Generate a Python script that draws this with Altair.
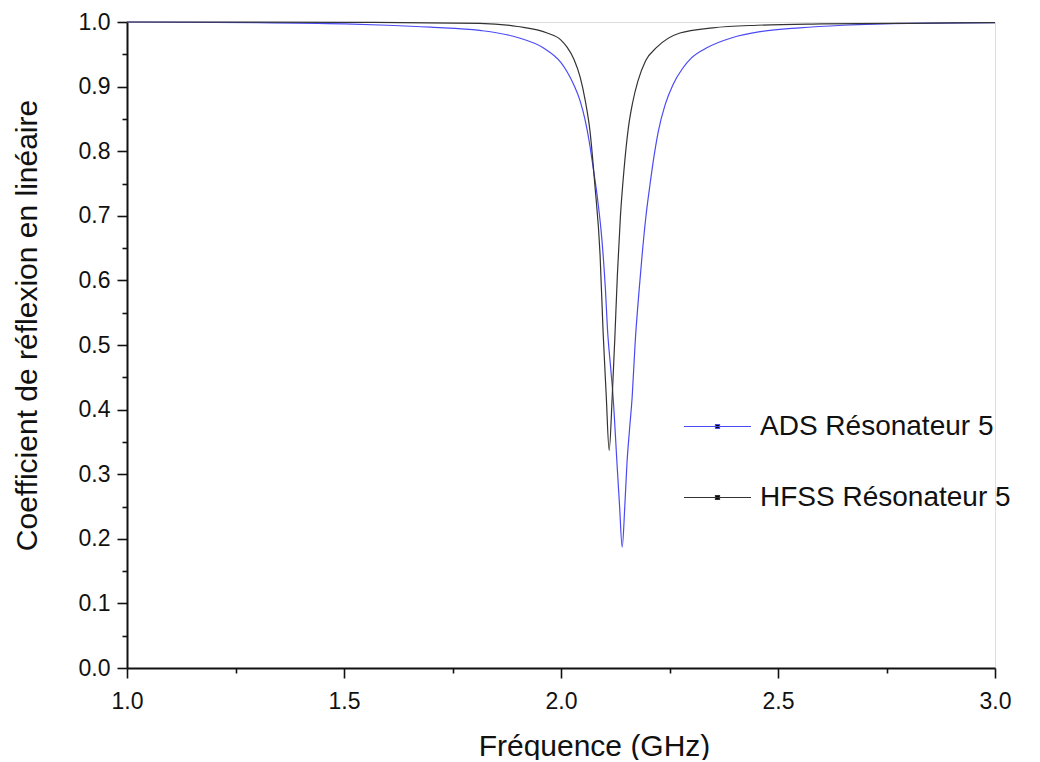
import altair as alt
import pandas as pd

# ADS Résonateur 5 (blue)
ads_f = [1.0, 1.3, 1.5, 1.6, 1.7, 1.813, 1.9, 1.959, 2.0, 2.014, 2.03, 2.044, 2.055, 2.065,
         2.074, 2.085, 2.094, 2.102, 2.108, 2.114, 2.120, 2.129, 2.135, 2.141, 2.147, 2.152,
         2.158, 2.164, 2.171, 2.180, 2.187, 2.195, 2.205, 2.215, 2.224, 2.24, 2.258, 2.28,
         2.30, 2.336, 2.396, 2.459, 2.55, 2.65, 2.8, 3.0]
ads_v = [1.0, 0.999, 0.997, 0.995, 0.992, 0.987, 0.976, 0.960, 0.937, 0.923, 0.902, 0.878,
         0.850, 0.815, 0.775, 0.722, 0.665, 0.59, 0.515, 0.468, 0.420, 0.317, 0.25, 0.187,
         0.25, 0.317, 0.37, 0.420, 0.505, 0.585, 0.640, 0.695, 0.748, 0.795, 0.830, 0.872,
         0.903, 0.928, 0.944, 0.960, 0.976, 0.985, 0.991, 0.995, 0.998, 0.999]

# HFSS Résonateur 5 (black)
hfss_f = [1.0, 1.5, 1.813, 1.9, 1.968, 2.0, 2.014, 2.03, 2.044, 2.056, 2.067, 2.078, 2.090,
          2.097, 2.104, 2.111, 2.118, 2.124, 2.130, 2.137, 2.145, 2.155, 2.165, 2.177, 2.195,
          2.221, 2.274, 2.350, 2.452, 2.6, 2.8, 3.0]
hfss_v = [1.0, 0.9995, 0.998, 0.993, 0.983, 0.972, 0.961, 0.942, 0.915, 0.878, 0.830, 0.748,
          0.640, 0.520, 0.425, 0.337, 0.420, 0.510, 0.610, 0.700, 0.770, 0.835, 0.875, 0.908,
          0.940, 0.961, 0.983, 0.991, 0.995, 0.997, 0.998, 0.999]

series_names = ["ADS Résonateur 5", "HFSS Résonateur 5"]
series_colors = ["#4a4af5", "#333333"]

x_major = [1.0, 1.5, 2.0, 2.5, 3.0]
x_minor = [1.25, 1.75, 2.25, 2.75]
y_major = [0.0, 0.1, 0.2, 0.3, 0.4, 0.5, 0.6, 0.7, 0.8, 0.9, 1.0]
y_minor = [0.05, 0.15, 0.25, 0.35, 0.45, 0.55, 0.65, 0.75, 0.85, 0.95]

df = pd.concat([
    pd.DataFrame({"f": ads_f, "v": ads_v, "s": series_names[0]}),
    pd.DataFrame({"f": hfss_f, "v": hfss_v, "s": series_names[1]}),
])

FONT = "Liberation Sans"
xscale = alt.Scale(domain=[1.0, 3.0], nice=False, zero=False)
yscale = alt.Scale(domain=[0.0, 1.0], nice=False, zero=False)

common_axis = dict(grid=False, domainColor="#111111", domainWidth=2, tickColor="#111111",
                   tickWidth=1.6, labelFont=FONT, labelColor="#111111", titleFont=FONT,
                   titleColor="#111111", titleFontWeight="normal", labelFlush=False,
                   labelFontSize=23, tickSize=10, titleFontSize=30)

lines = alt.Chart(df).mark_line(strokeWidth=1.2, interpolate="monotone").encode(
    x=alt.X("f:Q", scale=xscale,
            axis=alt.Axis(values=x_major, format=".1f", title="Fréquence (GHz)",
                          labelPadding=12,
                          titleX=467, titleY=78, titleBaseline="middle", titleAlign="center",
                          orient="bottom", **common_axis)),
    y=alt.Y("v:Q", scale=yscale,
            axis=alt.Axis(values=y_major, format=".1f",
                          title="Coefficient de réflexion en linéaire", labelPadding=7,
                          titleX=-100, titleY=303, titleBaseline="middle",
                          titleAlign="center", titleAngle=-90, orient="left", **common_axis)),
    color=alt.Color("s:N", scale=alt.Scale(domain=series_names, range=series_colors),
                    legend=alt.Legend(title=None, orient="none", legendX=556, legendY=370,
                                      symbolType="M-1,0H1M-0.06,-0.06H0.06V0.06H-0.06Z",
                                      symbolSize=4489, symbolStrokeWidth=1.2,
                                      symbolFillColor="#000000", labelLimit=500,
                                      labelFont=FONT, labelFontSize=28, labelColor="#111111",
                                      labelOffset=8, rowPadding=22)),
)

minor = alt.Chart(df).mark_line(opacity=0).encode(
    x=alt.X("f:Q", scale=xscale,
            axis=alt.Axis(values=x_minor, labels=False, title=None, domain=False, grid=False,
                          tickSize=5, tickColor="#111111", tickWidth=1.6, orient="bottom")),
    y=alt.Y("v:Q", scale=yscale,
            axis=alt.Axis(values=y_minor, labels=False, title=None, domain=False, grid=False,
                          tickSize=5, tickColor="#111111", tickWidth=1.6, orient="left")),
    detail="s:N",
)

chart = alt.layer(lines, minor).resolve_axis(x="independent", y="independent").properties(
    width=868, height=646,
    autosize=alt.AutoSizeParams(type="none"),
    padding={"left": 119, "top": 14, "right": 37, "bottom": 92},
).configure_view(stroke=None).configure(background="white")

chart.save("out.html", embed_options={"renderer": "svg", "actions": False})
